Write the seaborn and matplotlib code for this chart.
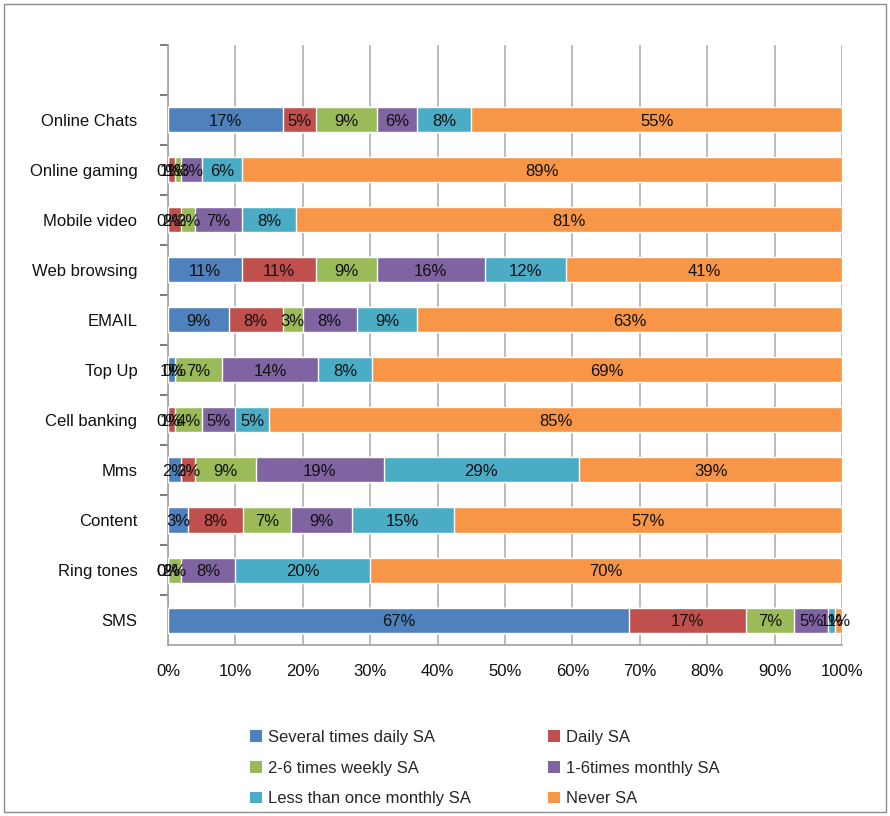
import numpy as np
import pandas as pd
import matplotlib
matplotlib.use("Agg")
import matplotlib.pyplot as plt
from matplotlib.patches import Rectangle, Patch
import seaborn as sns

# categories, top to bottom as in the chart
categories = ["Online Chats", "Online gaming", "Mobile video", "Web browsing", "EMAIL",
              "Top Up", "Cell banking", "Mms", "Content", "Ring tones", "SMS"]

series = ["Several times daily SA", "Daily SA", "2-6 times weekly SA",
          "1-6times monthly SA", "Less than once monthly SA", "Never SA"]

several_daily = [17, 0, 0, 11, 9, 1, 0, 2, 3, 0, 67]
daily = [5, 1, 2, 11, 8, 0, 1, 2, 8, 0, 17]
weekly = [9, 1, 2, 9, 3, 7, 4, 9, 7, 2, 7]
monthly = [6, 3, 7, 16, 8, 14, 5, 19, 9, 8, 5]
less_monthly = [8, 6, 8, 12, 9, 8, 5, 29, 15, 20, 1]
never = [55, 89, 81, 41, 63, 69, 85, 39, 57, 70, 1]

colors = ["#4F81BD", "#C0504D", "#9BBB59", "#8064A2", "#4BACC6", "#F79646"]

values = np.array([several_daily, daily, weekly, monthly, less_monthly, never], dtype=float)
shares = values / values.sum(axis=0) * 100  # 100% stacked
ends = shares.cumsum(axis=0)
starts = ends - shares

rows = []
for si, s in enumerate(series):
    for ci, c in enumerate(categories):
        rows.append({"category": c, "series": s, "value": values[si, ci],
                     "start": starts[si, ci], "end": ends[si, ci]})
df = pd.DataFrame(rows)

sns.set_theme(style="white")
font = ["Liberation Sans Narrow", "Liberation Sans", "DejaVu Sans"]
plt.rcParams["font.family"] = font

fig = plt.figure(figsize=(8.9, 8.16), dpi=100)
ax = fig.add_axes([168 / 890, 1 - 645 / 816, 674 / 890, 600 / 816])

# draw stacked bars: widest cumulative first, each later one on top
for si in reversed(range(len(series))):
    sub = df[df["series"] == series[si]]
    sns.barplot(data=sub, x="end", y="category", order=categories, orient="h",
                color=colors[si], saturation=1, width=0.5, ax=ax, zorder=3)

for _, r in df.iterrows():
    ax.text((r["start"] + r["end"]) / 2, categories.index(r["category"]) + 0.03,
            f"{int(r['value'])}%", ha="center", va="center", fontsize=12,
            color="#111111", zorder=5)

ax.set_xlim(0, 100)
ax.set_ylim(10.5, -1.5)
ax.set_xticks(np.arange(0, 101, 10))
ax.set_xticklabels([f"{t}%" for t in range(0, 101, 10)], fontsize=12, color="#111111")
ax.set_yticks(range(len(categories)))
ax.set_yticklabels(categories, fontsize=12, color="#111111")
ax.set_yticks(np.arange(-1.5, 10.5, 1), minor=True)
ax.tick_params(axis="y", which="major", length=0, pad=22)
ax.tick_params(axis="y", which="minor", length=6, color="#7f7f7f", width=1.5, left=True)
ax.tick_params(axis="x", length=0, pad=14)
ax.set_xlabel("")
ax.set_ylabel("")
ax.xaxis.grid(True, color="#b0b0b0", linewidth=1.2, zorder=0)
ax.set_axisbelow(True)
for side in ["top", "right"]:
    ax.spines[side].set_visible(False)
for side in ["left", "bottom"]:
    ax.spines[side].set_color("#a0a0a0")
    ax.spines[side].set_linewidth(1.2)

# legend, row-major order like the original
handles = [Patch(facecolor=c, edgecolor="none") for c in colors]
order = [0, 2, 4, 1, 3, 5]
fig.legend([handles[i] for i in order], [series[i] for i in order], ncol=2,
           loc="center", bbox_to_anchor=(485 / 890, 1 - 768 / 816), frameon=False,
           fontsize=12, handlelength=0.7, handleheight=0.7, columnspacing=4.6,
           labelspacing=0.95, handletextpad=0.4)

fig.patches.append(Rectangle((4 / 890, 4 / 816), 882 / 890, 808 / 816, transform=fig.transFigure,
                             fill=False, edgecolor="#8c8c8c", linewidth=1))

fig.savefig("out.png", dpi=100)
